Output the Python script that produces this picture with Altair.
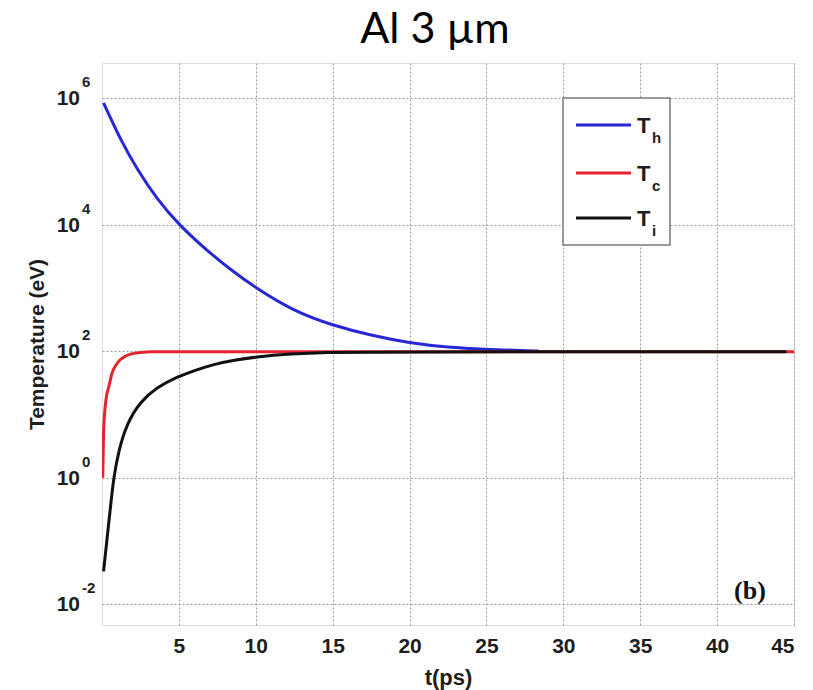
import altair as alt
import pandas as pd

# Hot electron, cold electron and ion temperatures versus time
t_hot = [0.1, 0.5, 1.2, 2.3, 3.6, 5.0, 6.8, 8.3, 10.0, 12.5, 15.0, 17.5, 20.0, 22.5, 25.0, 26.8, 28.4]
T_hot = [851000, 525000, 224000, 74100, 25100, 10000, 3980, 2000, 1000, 427, 257, 178, 135, 115, 107, 103.5, 101]

t_cold = [0.05, 0.1, 0.18, 0.28, 0.45, 0.65, 0.9, 1.2, 1.5, 1.85, 2.5, 3.2, 45.0]
T_cold = [1.0, 5.0, 11.2, 18.6, 28.0, 45.0, 60.0, 74.0, 83.0, 90.0, 95.5, 98.0, 98.0]

t_ion = [0.1, 0.27, 0.43, 0.6, 0.76, 1.08, 1.62, 2.48, 3.56, 4.86, 6.05, 7.35, 8.6, 9.94, 12.3, 14.7, 17.0, 44.5]
T_ion = [0.033, 0.079, 0.186, 0.44, 1.0, 2.69, 7.24, 15.8, 26.9, 38.9, 50.1, 63.1, 72.4, 81.3, 91.2, 96.6, 98.0, 98.0]

series_subs = ["h", "c", "i"]
series_colors = ["#2727d8", "#e3242e", "#111111"]

x_ticks = [5, 10, 15, 20, 25, 30, 35, 40, 45]
y_ticks = [1e-2, 1e0, 1e2, 1e4, 1e6]
y_exps = ["-2", "0", "2", "4", "6"]

W, H = 692, 562
AXIS_FONT = "Liberation Sans"
INK = "#1e1e1e"

xscale = alt.Scale(domain=[0, 45], nice=False, zero=False)
yscale = alt.Scale(type="log", domain=[0.00468, 3.63e6], nice=False)

x_axis = alt.Axis(
    values=x_ticks, title="t(ps)", labelFont=AXIS_FONT, labelFontSize=21,
    labelFontWeight="bold", labelColor=INK, labelPadding=10,
    ticks=False, domain=False, grid=True, gridColor="#9a9a9a", gridDash=[2, 2],
    gridWidth=1, titleFont=AXIS_FONT, titleFontSize=22, titleFontWeight="bold",
    titleColor=INK, titlePadding=11,
)
y_axis = alt.Axis(
    values=y_ticks, title="Temperature (eV)", labels=False, ticks=False,
    tickSize=0, domain=False, grid=True, gridColor="#9a9a9a", gridDash=[2, 2],
    gridWidth=1, titleFont=AXIS_FONT, titleFontSize=21, titleFontWeight="bold",
    titleColor=INK, titlePadding=55,
)


def series_layer(t, T, color, interp):
    df = pd.DataFrame({"t": t, "T": T})
    return alt.Chart(df).mark_line(
        color=color, strokeWidth=3, interpolate=interp, clip=True
    ).encode(
        x=alt.X("t:Q", scale=xscale, axis=x_axis),
        y=alt.Y("T:Q", scale=yscale, axis=y_axis),
    )


hot = series_layer(t_hot, T_hot, series_colors[0], "basis")
cold = series_layer(t_cold, T_cold, series_colors[1], "monotone")
ion = series_layer(t_ion, T_ion, series_colors[2], "basis")

# y tick labels as 10 with a raised exponent
ytick_df = pd.DataFrame({"v": y_ticks, "e": y_exps})
ten = alt.Chart(ytick_df).mark_text(
    align="right", baseline="middle", dy=1, fontSize=21, fontWeight="bold",
    font=AXIS_FONT, color=INK,
).encode(y=alt.Y("v:Q", scale=yscale, axis=y_axis), x=alt.value(-22), text=alt.value("10"))
exps = alt.Chart(ytick_df).mark_text(
    align="left", baseline="alphabetic", dy=-11, fontSize=15, fontWeight="bold",
    font=AXIS_FONT, color=INK,
).encode(y=alt.Y("v:Q", scale=yscale, axis=y_axis), x=alt.value(-20), text="e:N")

one = pd.DataFrame({"a": [0]})

# legend box
legend_box = alt.Chart(one).mark_rect(
    fill="white", stroke="#7a7a7a", strokeWidth=1.5
).encode(x=alt.value(461), x2=alt.value(568), y=alt.value(35), y2=alt.value(182))

legend_layers = [legend_box]
for i, (sub, col) in enumerate(zip(series_subs, series_colors)):
    yy = [62, 110, 155][i]
    legend_layers.append(
        alt.Chart(one).mark_rule(color=col, strokeWidth=3).encode(
            x=alt.value(474), x2=alt.value(529), y=alt.value(yy)
        )
    )
    legend_layers.append(
        alt.Chart(one).mark_text(
            align="left", baseline="middle", fontSize=22, fontWeight="bold",
            font=AXIS_FONT, color=INK
        ).encode(x=alt.value(535), y=alt.value(yy + 1), text=alt.value("T"))
    )
    legend_layers.append(
        alt.Chart(one).mark_text(
            align="left", baseline="alphabetic", fontSize=15, fontWeight="bold",
            font=AXIS_FONT, color=INK
        ).encode(x=alt.value(550), y=alt.value(yy + 18), text=alt.value(sub))
    )

panel_tag = alt.Chart(one).mark_text(
    align="center", baseline="middle", fontSize=26, fontWeight="bold",
    font="Liberation Serif", color="#111111",
).encode(x=alt.value(648), y=alt.value(528), text=alt.value("(b)"))

title = alt.Chart(one).mark_text(
    align="center", baseline="alphabetic", fontSize=43, font="Lato", color="#000000",
).encode(x=alt.value(333), y=alt.value(-20), text=alt.value("Al 3 µm"))

chart = alt.layer(
    hot, cold, ion, ten, exps, *legend_layers, panel_tag, title
).properties(
    width=W, height=H,
    autosize=alt.AutoSizeParams(type="none"),
    padding={"left": 102, "top": 63, "right": 19, "bottom": 65},
).configure_view(stroke="#7f7f7f", strokeWidth=2).configure(background="white")

chart.save("out.html", embed_options={"renderer": "svg", "actions": False})
